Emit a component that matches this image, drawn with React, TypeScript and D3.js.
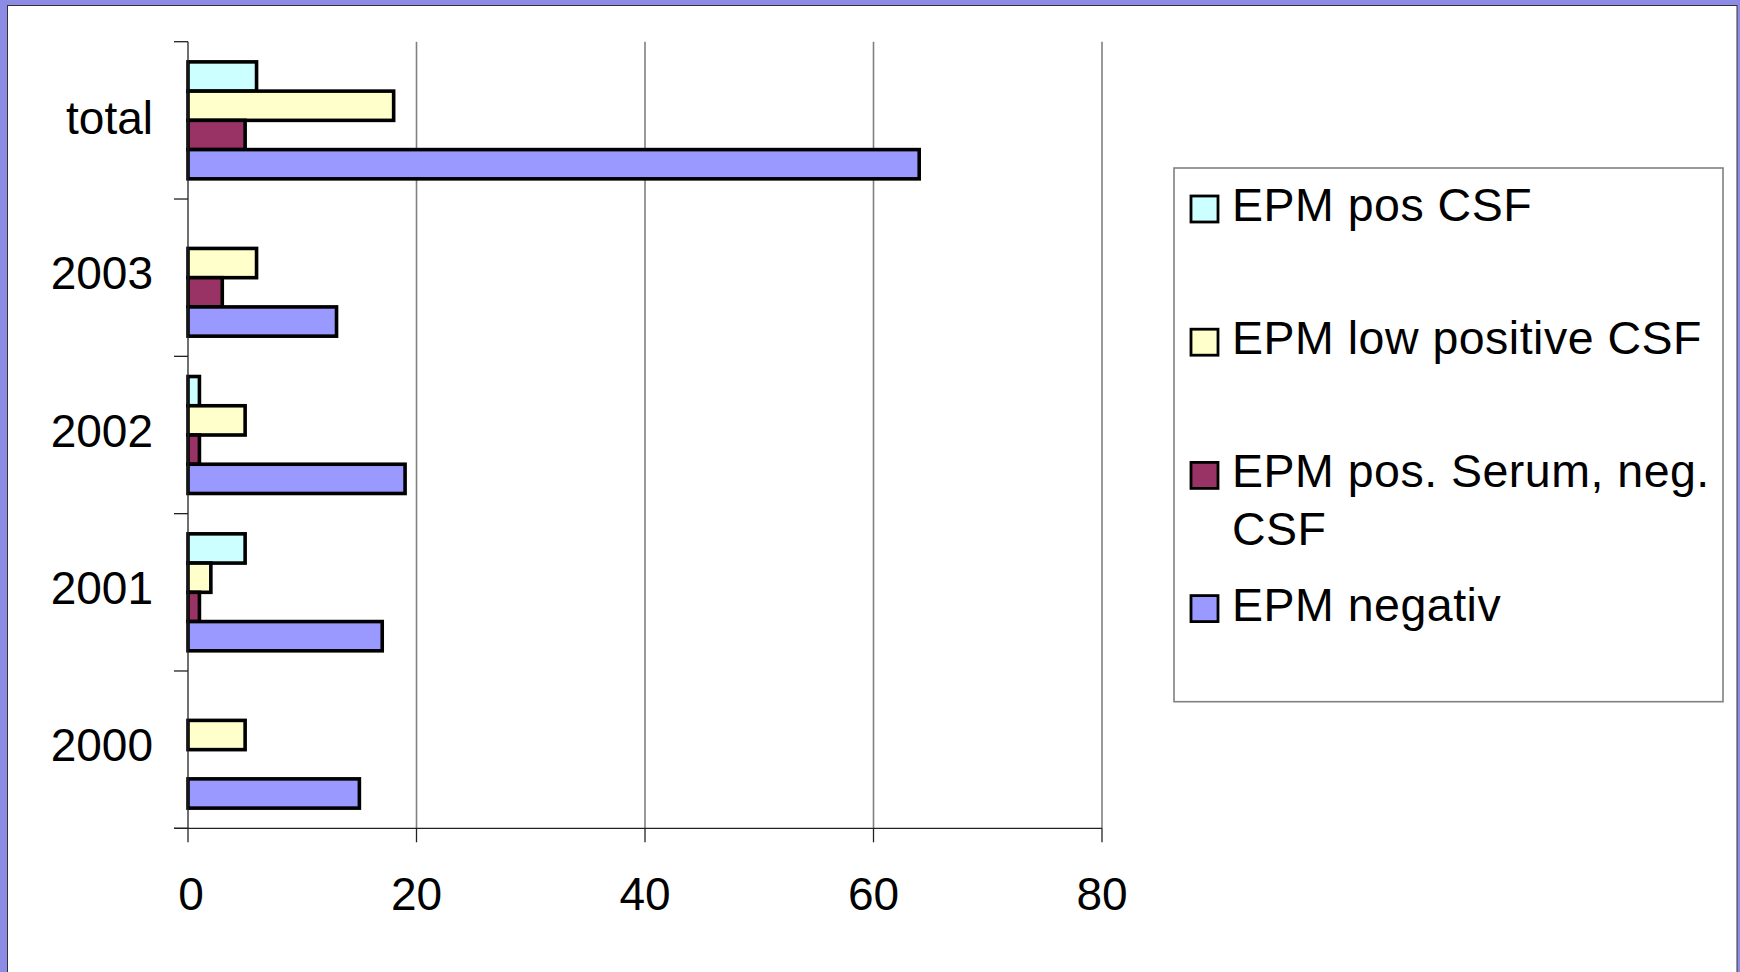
import React, { useEffect } from 'react';
import * as d3 from 'd3';

const categories = ['total', '2003', '2002', '2001', '2000'];
const seriesNames = ['EPM pos CSF', 'EPM low positive CSF', 'EPM pos. Serum, neg. CSF', 'EPM negativ'];
const posCsf = [6, 0, 1, 5, 0];
const lowPositiveCsf = [18, 6, 5, 2, 5];
const posSerumNegCsf = [5, 3, 1, 1, 0];
const negativ = [64, 13, 19, 17, 15];
const xTicks = [0, 20, 40, 60, 80];
// legend text, wrapped the way the original breaks it
const legendLines = [['EPM pos CSF'], ['EPM low positive CSF'], ['EPM pos. Serum, neg.', 'CSF'], ['EPM negativ']];

const colors = ['#ccffff', '#ffffcc', '#993366', '#9999ff'];
const values = [posCsf, lowPositiveCsf, posSerumNegCsf, negativ];

const W = 1740;
const H = 972;
const FONT = '"Liberation Sans", Arial, sans-serif';

const App: React.FC = () => {
  useEffect(() => {
    document.body.style.margin = '0';
  }, []);

  const plot = { left: 188, right: 1102, top: 41.7, bottom: 828.3 };

  const x = d3.scaleLinear().domain([0, 80]).range([plot.left, plot.right]);
  const y = d3.scaleBand<string>().domain(categories).range([plot.top, plot.bottom]);
  const inner = d3.scaleBand<string>()
    .domain(seriesNames)
    .range([0, y.bandwidth()])
    .paddingOuter(0.69);

  // category boundaries for the left ticks
  const bounds = categories.map(c => y(c) as number).concat(plot.bottom);

  return (
    <svg width={W} height={H} style={{ display: 'block' }} fontFamily={FONT}>
      <rect x={0} y={0} width={W} height={H} fill="#8c8ce6" />
      <rect x={7.5} y={5.5} width={1729.5} height={H} fill="#ffffff" stroke="#333" strokeWidth={1} />

      {/* grid */}
      {xTicks.slice(1).map(t => (
        <line key={t} x1={x(t)} x2={x(t)} y1={plot.top} y2={plot.bottom} stroke="#808080" strokeWidth={1.6} />
      ))}

      {/* bars */}
      {categories.map((c, ci) => (
        <g key={c} transform={`translate(0,${y(c)})`}>
          {seriesNames.map((s, si) => {
            const v = values[si][ci];
            if (!v) return null;
            return (
              <rect
                key={s}
                x={x(0)}
                y={inner(s)}
                width={x(v) - x(0)}
                height={inner.bandwidth()}
                fill={colors[si]}
                stroke="#000"
                strokeWidth={3.6}
              />
            );
          })}
        </g>
      ))}

      {/* axes */}
      <line x1={plot.left} x2={plot.left} y1={plot.top} y2={plot.bottom} stroke="#222" strokeWidth={1.3} />
      <line x1={plot.left - 14} x2={plot.right} y1={plot.bottom} y2={plot.bottom} stroke="#222" strokeWidth={1.3} />
      {bounds.map((b, i) => (
        <line key={i} x1={plot.left - 14} x2={plot.left} y1={b} y2={b} stroke="#222" strokeWidth={1.3} />
      ))}
      {xTicks.map(t => (
        <g key={t}>
          <line x1={x(t)} x2={x(t)} y1={plot.bottom} y2={plot.bottom + 14} stroke="#222" strokeWidth={1.3} />
          <text x={x(t) + (t === 0 ? 3 : 0)} y={910} fontSize={46} textAnchor="middle" fill="#000">{t}</text>
        </g>
      ))}
      {categories.map((c, i) => (
        <text key={c} x={153} y={(y(c) as number) + y.bandwidth() / 2 + (i === 0 ? 14 : 11.5)} fontSize={46} textAnchor="end" fill="#000">
          {c}
        </text>
      ))}

      {/* legend */}
      <rect x={1174} y={168} width={549} height={533.7} fill="#fff" stroke="#808080" strokeWidth={1.6} />
      {legendLines.map((lines, i) => {
        const base = 221 + i * 133.2;
        return (
          <g key={i}>
            <rect x={1191} y={base - 25} width={27} height={26} fill={colors[i]} stroke="#000" strokeWidth={2.8} />
            {lines.map((ln, li) => (
              <text key={li} x={1232} y={base + li * 58} fontSize={46.5} letterSpacing={0.5} fill="#000">{ln}</text>
            ))}
          </g>
        );
      })}
    </svg>
  );
};

export default App;
